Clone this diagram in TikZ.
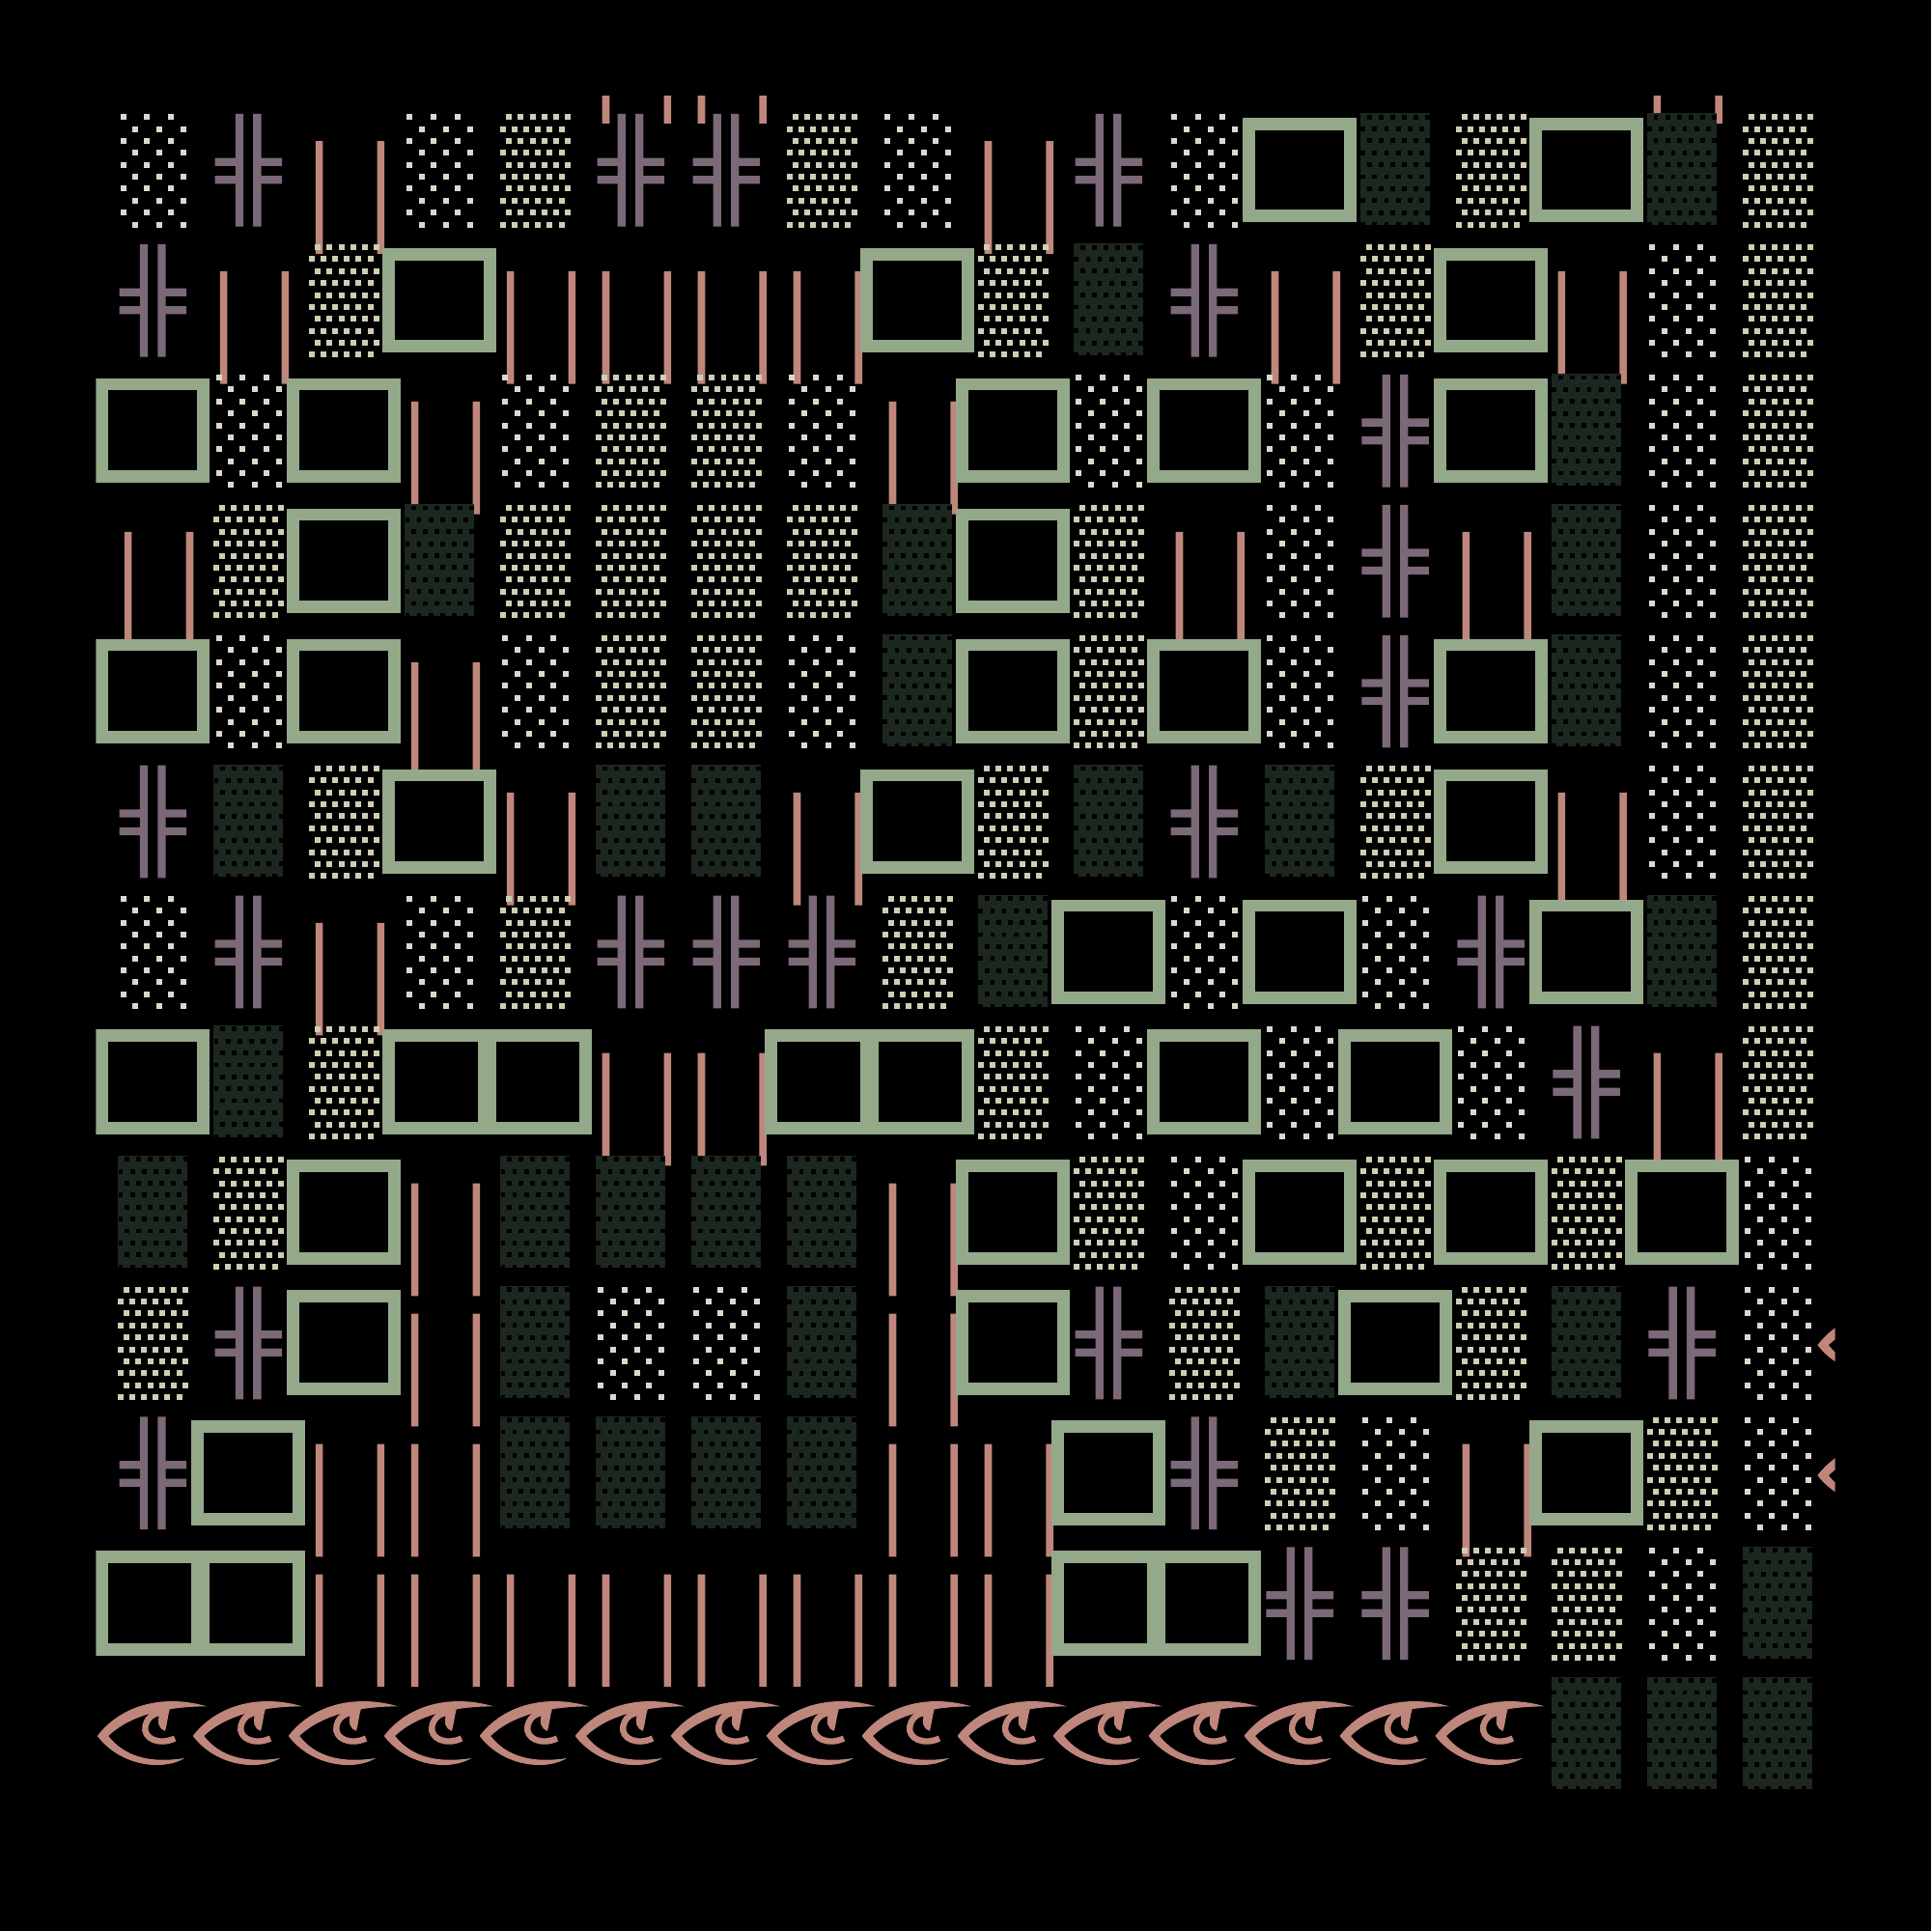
\documentclass[tikz,border=0pt]{standalone}
\definecolor{dotc}{HTML}{DCD8CC}
\definecolor{densec}{HTML}{CFCDB4}
\definecolor{boxc}{HTML}{94A88A}
\definecolor{pinkc}{HTML}{BF877C}
\definecolor{purc}{HTML}{7B6878}
\definecolor{darkc}{HTML}{1C271F}
\newcommand\cellD[2]{\foreach \r in {0,...,9}{\pgfmathsetmacro\yy{#2-43+9.7*\r}\pgfmathsetmacro\off{mod(\r,2)==0 ? -24 : -14}\foreach \k in {0,1,2}{\fill[dotc] (#1+\off+19.5*\k-2.35,\yy-2.35) rectangle ++(4.7,4.7);}}}
\newcommand\cellG[2]{\foreach \r in {0,...,9}{\pgfmathsetmacro\yy{#2-43+9.7*\r}\pgfmathsetmacro\off{mod(\r,2)==0 ? -21 : -26}\foreach \k in {0,...,5}{\fill[densec] (#1+\off+9.5*\k-2.35,\yy-2.35) rectangle ++(4.7,4.7);}}}
\newcommand\cellK[2]{\fill[darkc] (#1-28,#2-46) rectangle (#1+28,#2+45);\foreach \r in {0,...,9}{\pgfmathsetmacro\yy{#2-43+9.7*\r}\pgfmathsetmacro\off{mod(\r,2)==0 ? -21 : -26}\foreach \k in {0,...,5}{\fill[black] (#1+\off+9.5*\k-1.9,\yy-1.9) rectangle ++(3.8,3.8);}}}
\newcommand\cellP[2]{\fill[purc] (#1-10.5,#2-45.5) rectangle (#1-4,#2+46) (#1+4,#2-45.5) rectangle (#1+10.5,#2+46)
 (#1-27,#2-9.75) rectangle (#1-4,#2-3.25) (#1-27,#2+4.75) rectangle (#1-4,#2+11.25)
 (#1+4,#2-9.75) rectangle (#1+27.5,#2-3.25) (#1+4,#2+4.75) rectangle (#1+27.5,#2+11.25);}
\newcommand\cellL[2]{\fill[pinkc] (#1-23,#2-23.5) rectangle (#1-17,#2+68) (#1+27,#2-23.5) rectangle (#1+33,#2+68);}
\newcommand\cellB[2]{\draw[boxc,line width=10pt] (#1-41,#2-37.5) rectangle (#1+41,#2+37.5);}
\newcommand\cellW[2]{\fill[pinkc] (#1-45,#2+2) .. controls (#1-25,#2-24) and (#1+10,#2-32) .. (#1+44,#2-22)
 .. controls (#1+20,#2-22) and (#1-15,#2-18) .. (#1-36,#2+2)
 .. controls (#1-22,#2+20) and (#1+0,#2+24) .. (#1+26,#2+20)
 .. controls (#1+10,#2+30) and (#1-25,#2+28) .. cycle;
 \draw[pinkc,line width=5pt] (#1+18,#2+4) .. controls (#1+5,#2+10) and (#1-8,#2+4) .. (#1-6,#2-6) .. controls (#1-4,#2-16) and (#1+6,#2-18) .. (#1+10,#2-16);
 \fill[pinkc] (#1+6,#2-18) .. controls (#1+3,#2-8) and (#1+5,#2-4) .. (#1+10,#2-2) .. controls (#1+12,#2-8) and (#1+12,#2-14) .. (#1+14,#2-20) -- cycle;}
\newcommand\cellN[2]{}
\begin{document}
\begin{tikzpicture}[x=1pt,y=-1pt]
\fill[black] (0,0) rectangle (1568,1568);
\useasboundingbox (0,0) rectangle (1568,1568);
\begin{scope}
\clip (78,78) rectangle (1490,1462);
\foreach \row [count=\j from -1] in {
{N,N,N,N,N,L,L,N,N,N,N,N,N,N,N,N,L,N},
{D,P,L,D,G,P,P,G,D,L,P,D,B,K,G,B,K,G},
{P,L,G,B,L,L,L,L,B,G,K,P,L,G,B,L,D,G},
{B,D,B,L,D,G,G,D,L,B,D,B,D,P,B,K,D,G},
{L,G,B,K,G,G,G,G,K,B,G,L,D,P,L,K,D,G},
{B,D,B,L,D,G,G,D,K,B,G,B,D,P,B,K,D,G},
{P,K,G,B,L,K,K,L,B,G,K,P,K,G,B,L,D,G},
{D,P,L,D,G,P,P,P,G,K,B,D,B,D,P,B,K,G},
{B,K,G,B,B,L,L,B,B,G,D,B,D,B,D,P,L,G},
{K,G,B,L,K,K,K,K,L,B,G,D,B,G,B,G,B,D},
{G,P,B,L,K,D,D,K,L,B,P,G,K,B,G,K,P,D,W},
{P,B,L,L,K,K,K,K,L,L,B,P,G,D,L,B,G,D,W},
{B,B,L,L,L,L,L,L,L,L,B,B,P,P,G,G,D,K},
{W,W,W,W,W,W,W,W,W,W,W,W,W,W,W,K,K,K}}{
  \foreach \t [count=\i from 0] in \row {
    \pgfmathsetmacro\cx{124+77.6*\i}\pgfmathsetmacro\cy{138+105.8*\j}
    \csname cell\t\endcsname{\cx}{\cy}
  }
}
\end{scope}
\end{tikzpicture}
\end{document}
